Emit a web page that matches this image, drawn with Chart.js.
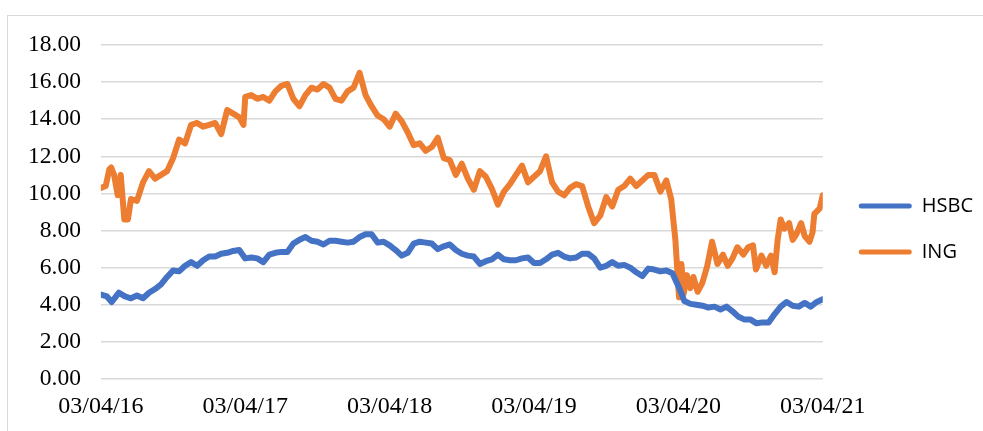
<!DOCTYPE html>
<html lang="en">
<head>
  <meta charset="UTF-8">
  <title>HSBC vs ING</title>
  <script src="https://cdn.jsdelivr.net/npm/chart.js"></script>
  <style>
    html, body { margin: 0; padding: 0; background: #fff; overflow: hidden; }
    .frame { position: absolute; left: 7px; top: 15px; width: 1000px; height: 500px; border: 1.5px solid #d9d9d9; }
    .wrap { position: absolute; left: 0; top: 0; width: 983px; height: 431px; }
  </style>
</head>
<body>
  <div class="frame"></div>
  <div class="wrap"><canvas id="priceChart" width="983" height="431"></canvas></div>

  <script>
    // x positions are months since 03/04/16
    const dateLabels = ['03/04/16', '03/04/17', '03/04/18', '03/04/19', '03/04/20', '03/04/21'];

    const hsbcMonths = [0, 0.5, 0.9, 1.5, 2, 2.5, 3, 3.5, 4, 4.5, 5, 5.5, 6, 6.5, 7, 7.5, 8, 8.5, 9, 9.5,
      10, 10.5, 11, 11.5, 12, 12.5, 13, 13.5, 14, 14.5, 15, 15.5, 16, 16.5, 17, 17.5, 18, 18.5, 19, 19.5,
      20, 20.5, 21, 21.5, 22, 22.5, 23, 23.5, 24, 24.5, 25, 25.5, 26, 26.5, 27, 27.5, 28, 28.5, 29, 29.5,
      30, 30.5, 31, 31.5, 32, 32.5, 33, 33.5, 34, 34.5, 35, 35.5, 36, 36.5, 37, 37.5, 38, 38.5, 39, 39.5,
      40, 40.5, 41, 41.5, 42, 42.5, 43, 43.5, 44, 44.5, 45, 45.5, 46, 46.5, 47, 47.5, 48, 48.5, 49, 49.5,
      50, 50.5, 51, 51.5, 52, 52.5, 53, 53.5, 54, 54.5, 55, 55.5, 56, 56.5, 57, 57.5, 58, 58.5, 59, 59.5, 60];
    const hsbcValues = [4.55, 4.45, 4.15, 4.65, 4.45, 4.35, 4.5, 4.35, 4.65, 4.85, 5.1, 5.5, 5.85, 5.8, 6.1, 6.3, 6.1, 6.4, 6.6, 6.6,
      6.75, 6.8, 6.9, 6.95, 6.5, 6.55, 6.5, 6.3, 6.7, 6.8, 6.85, 6.85, 7.3, 7.5, 7.65, 7.45, 7.4, 7.25, 7.45, 7.45,
      7.4, 7.35, 7.4, 7.65, 7.8, 7.8, 7.35, 7.4, 7.2, 6.95, 6.65, 6.8, 7.3, 7.4, 7.35, 7.3, 7.0, 7.15, 7.25, 6.95,
      6.75, 6.65, 6.6, 6.2, 6.35, 6.45, 6.7, 6.45, 6.4, 6.4, 6.5, 6.55, 6.25, 6.25, 6.45, 6.7, 6.8, 6.6, 6.5, 6.55,
      6.75, 6.75, 6.5, 6.0, 6.1, 6.3, 6.1, 6.15, 6.0, 5.75, 5.55, 5.95, 5.9, 5.8, 5.85, 5.7, 5.0, 4.2, 4.05, 4.0,
      3.95, 3.85, 3.9, 3.75, 3.9, 3.65, 3.35, 3.2, 3.2, 3.0, 3.05, 3.05, 3.5, 3.9, 4.15, 3.95, 3.9, 4.1, 3.9, 4.15, 4.3];

    const ingMonths = [0, 0.4, 0.7, 0.85, 1.1, 1.4, 1.65, 1.95, 2.25, 2.5, 3, 3.5, 4, 4.5, 5, 5.5, 6, 6.5, 7, 7.5,
      8, 8.5, 9, 9.5, 10, 10.5, 11, 11.5, 11.85, 12, 12.5, 13, 13.5, 14, 14.5, 15, 15.5, 16, 16.5, 17,
      17.5, 18, 18.5, 19, 19.5, 20, 20.5, 21, 21.5, 22, 22.5, 23, 23.5, 24, 24.5, 25, 25.5, 26, 26.5, 27,
      27.5, 28, 28.5, 29, 29.5, 30, 30.5, 31, 31.5, 32, 32.5, 33, 33.5, 34, 34.5, 35, 35.5, 36, 36.5, 37,
      37.5, 38, 38.5, 39, 39.5, 40, 40.5, 41, 41.5, 42, 42.5, 43, 43.5, 44, 44.5, 45, 45.5, 46, 46.5, 47,
      47.4, 47.75, 48.05, 48.25, 48.45, 48.7, 49, 49.25, 49.6, 50, 50.4, 50.8, 51.25, 51.7, 52.1, 52.5, 52.9, 53.4, 53.8, 54.2,
      54.45, 54.9, 55.3, 55.7, 56, 56.25, 56.5, 56.8, 57.2, 57.5, 57.8, 58.2, 58.5, 58.9, 59.15, 59.3, 59.75, 60];
    const ingValues = [10.3, 10.4, 11.3, 11.4, 11.0, 9.9, 11.0, 8.6, 8.6, 9.7, 9.6, 10.6, 11.2, 10.8, 11.0, 11.2, 11.9, 12.9, 12.7, 13.7,
      13.8, 13.6, 13.7, 13.8, 13.2, 14.5, 14.3, 14.1, 13.7, 15.2, 15.3, 15.1, 15.2, 15.0, 15.5, 15.8, 15.9, 15.1, 14.7, 15.3,
      15.7, 15.6, 15.9, 15.7, 15.1, 15.0, 15.5, 15.7, 16.5, 15.3, 14.7, 14.2, 14.0, 13.6, 14.3, 13.9, 13.3, 12.6, 12.7, 12.3,
      12.5, 13.0, 11.9, 11.8, 11.0, 11.6, 10.8, 10.2, 11.2, 10.9, 10.25, 9.4, 10.1, 10.5, 11.0, 11.5, 10.6, 10.9, 11.2, 12.0,
      10.6, 10.1, 9.9, 10.3, 10.5, 10.4, 9.3, 8.4, 8.8, 9.8, 9.3, 10.2, 10.4, 10.8, 10.4, 10.7, 11.0, 11.0, 10.1, 10.7,
      9.7, 7.5, 4.4, 6.2, 4.6, 5.6, 4.9, 5.5, 4.7, 5.2, 6.1, 7.4, 6.2, 6.7, 6.1, 6.5, 7.1, 6.7, 7.1, 7.2,
      5.9, 6.65, 6.1, 6.65, 5.75, 7.5, 8.6, 8.1, 8.4, 7.5, 7.8, 8.4, 7.7, 7.4, 7.9, 8.9, 9.2, 9.9];

    function toPoints(months, values) {
      return months.map((m, i) => ({ x: m, y: values[i] }));
    }

    const serif = '"Liberation Serif", "Times New Roman", serif';

    // nudge the legend block up a little so it sits where the original had it
    const legendNudge = {
      id: 'legendNudge',
      afterLayout(chart) {
        chart.legend.top -= 7;
        chart.legend.bottom -= 7;
      }
    };

    const ctx = document.getElementById('priceChart').getContext('2d');
    const priceChart = new Chart(ctx, {
      type: 'line',
      data: {
        datasets: [{
          label: 'HSBC',
          data: toPoints(hsbcMonths, hsbcValues),
          borderColor: '#4472C4',
          backgroundColor: '#4472C4',
          borderWidth: 6
        }, {
          label: 'ING',
          data: toPoints(ingMonths, ingValues),
          borderColor: '#ED7D31',
          backgroundColor: '#ED7D31',
          borderWidth: 6
        }]
      },
      options: {
        responsive: false,
        animation: false,
        elements: {
          point: { radius: 0 },
          line: { tension: 0, borderCapStyle: 'round', borderJoinStyle: 'round' }
        },
        layout: { padding: { left: 8, top: 45, right: 0, bottom: 4 } },
        scales: {
          x: {
            type: 'linear',
            min: 0,
            max: 60,
            grid: { display: false },
            border: { display: false },
            ticks: {
              stepSize: 12,
              autoSkip: false,
              maxRotation: 0,
              padding: 8,
              color: '#000',
              font: { family: serif, size: 24, lineHeight: 1 },
              callback: value => dateLabels[value / 12]
            }
          },
          y: {
            min: 0,
            max: 18,
            grid: { color: '#d9d9d9', lineWidth: 1.5, drawTicks: false },
            border: { display: false },
            ticks: {
              stepSize: 2,
              padding: 20,
              color: '#000',
              font: { family: serif, size: 23.5 },
              callback: value => value.toFixed(2)
            }
          },
          // empty spacer between the plot and the legend
          gap: {
            type: 'linear',
            position: 'right',
            grid: { display: false },
            border: { display: false },
            ticks: { display: false },
            afterFit: scale => { scale.width = 10; }
          }
        },
        plugins: {
          tooltip: { enabled: false },
          legend: {
            position: 'right',
            labels: {
              color: '#000',
              boxWidth: 53,
              boxHeight: 5,
              padding: 26,
              useBorderRadius: true,
              borderRadius: 2.5,
              font: { family: '"Open Sans", sans-serif', size: 20 },
              generateLabels: chart => Chart.defaults.plugins.legend.labels.generateLabels(chart)
                .map(item => Object.assign(item, { lineWidth: 0 }))
            }
          }
        }
      },
      plugins: [legendNudge]
    });
  </script>
</body>
</html>
